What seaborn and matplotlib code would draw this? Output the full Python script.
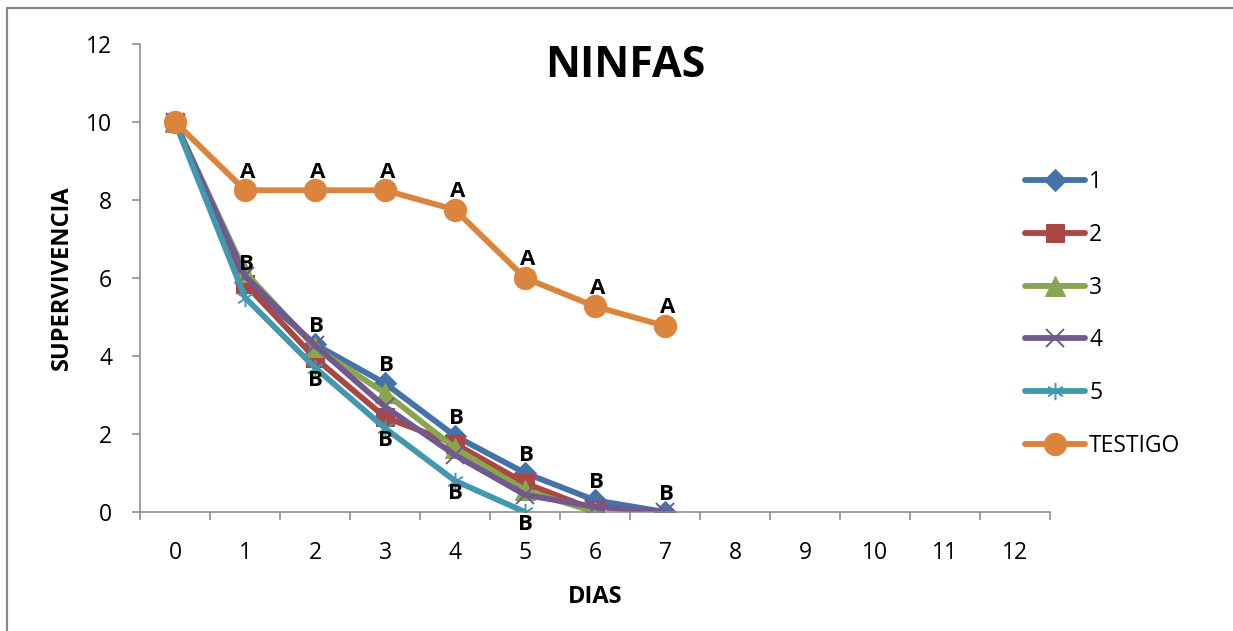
import numpy as np
import pandas as pd
import matplotlib
matplotlib.use("Agg")
import matplotlib.pyplot as plt
from matplotlib.path import Path
from matplotlib.patches import Rectangle
import seaborn as sns

# datos
dias = list(range(13))
s1 = [10, 5.9, 4.3, 3.3, 1.95, 1.0, 0.3, 0.0]
s2 = [10, 5.85, 3.95, 2.43, 1.75, 0.74, 0.05]
s3 = [10, 6.15, 4.22, 3.05, 1.64, 0.56, 0.0]
s4 = [10, 6.05, 4.27, 2.7, 1.46, 0.44, 0.13, 0.0]
s5 = [10, 5.5, 3.7, 2.15, 0.8, 0.0]
testigo = [10, 8.25, 8.25, 8.25, 7.75, 6.0, 5.27, 4.77]

nombres = ["1", "2", "3", "4", "5", "TESTIGO"]
series = [s1, s2, s3, s4, s5, testigo]
colores = ["#4572A7", "#AA4643", "#89A54E", "#71588F", "#4198AF", "#DB843D"]

# letras de significancia
letras_a = ["A"] * 7          # sobre TESTIGO, dias 1..7
letras_b_sup = ["B"] * 7      # sobre serie 1, dias 1..7
letras_b_inf = ["B"] * 4      # bajo serie 5, dias 2..5

asterisco = Path([(0, -1), (0, 1), (-0.85, -0.55), (0.85, 0.55),
                  (-0.85, 0.55), (0.85, -0.55)],
                 [Path.MOVETO, Path.LINETO, Path.MOVETO, Path.LINETO,
                  Path.MOVETO, Path.LINETO])

estilos = [
    dict(marker="D", markersize=11.5),
    dict(marker="s", markersize=12.5),
    dict(marker="^", markersize=14),
    dict(marker="x", markersize=12.5, markeredgewidth=1.4),
    dict(marker=asterisco, markersize=12.5, markeredgewidth=1.4),
    dict(marker="o", markersize=16),
]

sns.set_style("white")
plt.rcParams["font.family"] = ["Open Sans", "DejaVu Sans"]
plt.rcParams["text.color"] = "black"
plt.rcParams["axes.labelcolor"] = "black"
plt.rcParams["xtick.labelcolor"] = "black"
plt.rcParams["ytick.labelcolor"] = "black"

fig = plt.figure(figsize=(12.33, 6.31), dpi=100)
ax = fig.add_axes([140 / 1233, 1 - 512 / 631, 910 / 1233, 468 / 631])

for nombre, vals, col, est in zip(nombres, series, colores, estilos):
    df = pd.DataFrame({"DIAS": dias[:len(vals)], "SUPERVIVENCIA": vals})
    sns.lineplot(data=df, x="DIAS", y="SUPERVIVENCIA", ax=ax, color=col,
                 linewidth=4.2, markeredgecolor=col, markerfacecolor=col,
                 label=nombre, errorbar=None, solid_capstyle="round", **est)

etiqueta = dict(fontsize=16, fontweight="bold", ha="center", va="center",
                color="black", textcoords="offset points")
for d, letra in zip(dias[1:8], letras_a):
    ax.annotate(letra, (d, testigo[d]), xytext=(2, 13), **etiqueta)
for d, letra in zip(dias[1:8], letras_b_sup):
    ax.annotate(letra, (d, s1[d]), xytext=(1, 12.5), **etiqueta)
for d, letra in zip(dias[2:6], letras_b_inf):
    ax.annotate(letra, (d, s5[d]), xytext=(0, -9), **etiqueta)

gris = "#868686"
ax.set_xlim(-0.5, 12.5)
ax.set_ylim(0, 12)
ax.set_xticks(np.arange(-0.5, 13, 1))
ax.set_xticklabels([])
ax.set_xticks(dias, [str(d) for d in dias], minor=True)
ax.set_yticks(range(0, 13, 2))
ax.tick_params(axis="x", which="major", direction="out", length=6, width=1.1,
               color=gris, bottom=True)
ax.tick_params(axis="x", which="minor", length=0, pad=21, labelsize=16.5)
ax.tick_params(axis="y", direction="out", length=6, width=1.1, color=gris,
               left=True, pad=14, labelsize=16.5)
for lado in ["top", "right"]:
    ax.spines[lado].set_visible(False)
for lado in ["left", "bottom"]:
    ax.spines[lado].set_color(gris)
    ax.spines[lado].set_linewidth(1.1)

ax.set_xlabel("DIAS", fontsize=17, fontweight="bold", labelpad=14)
ax.set_ylabel("SUPERVIVENCIA", fontsize=17, fontweight="bold", labelpad=9)
ax.text(0.533, 0.955, "NINFAS", transform=ax.transAxes, fontsize=31,
        fontweight="bold", ha="center", va="center")

ax.legend(loc="center left", bbox_to_anchor=(1025 / 1233, 1 - 314 / 631),
          bbox_transform=fig.transFigure, frameon=False, fontsize=16.5,
          handlelength=2.6, handletextpad=0.2, labelspacing=1.25,
          borderpad=0, borderaxespad=0)

fig.patches.append(Rectangle((7 / 1233, -0.2), 1.5, 1.2 - 8 / 631,
                             transform=fig.transFigure, fill=False,
                             edgecolor=gris, linewidth=1.6))

fig.savefig("out.png", dpi=100)
